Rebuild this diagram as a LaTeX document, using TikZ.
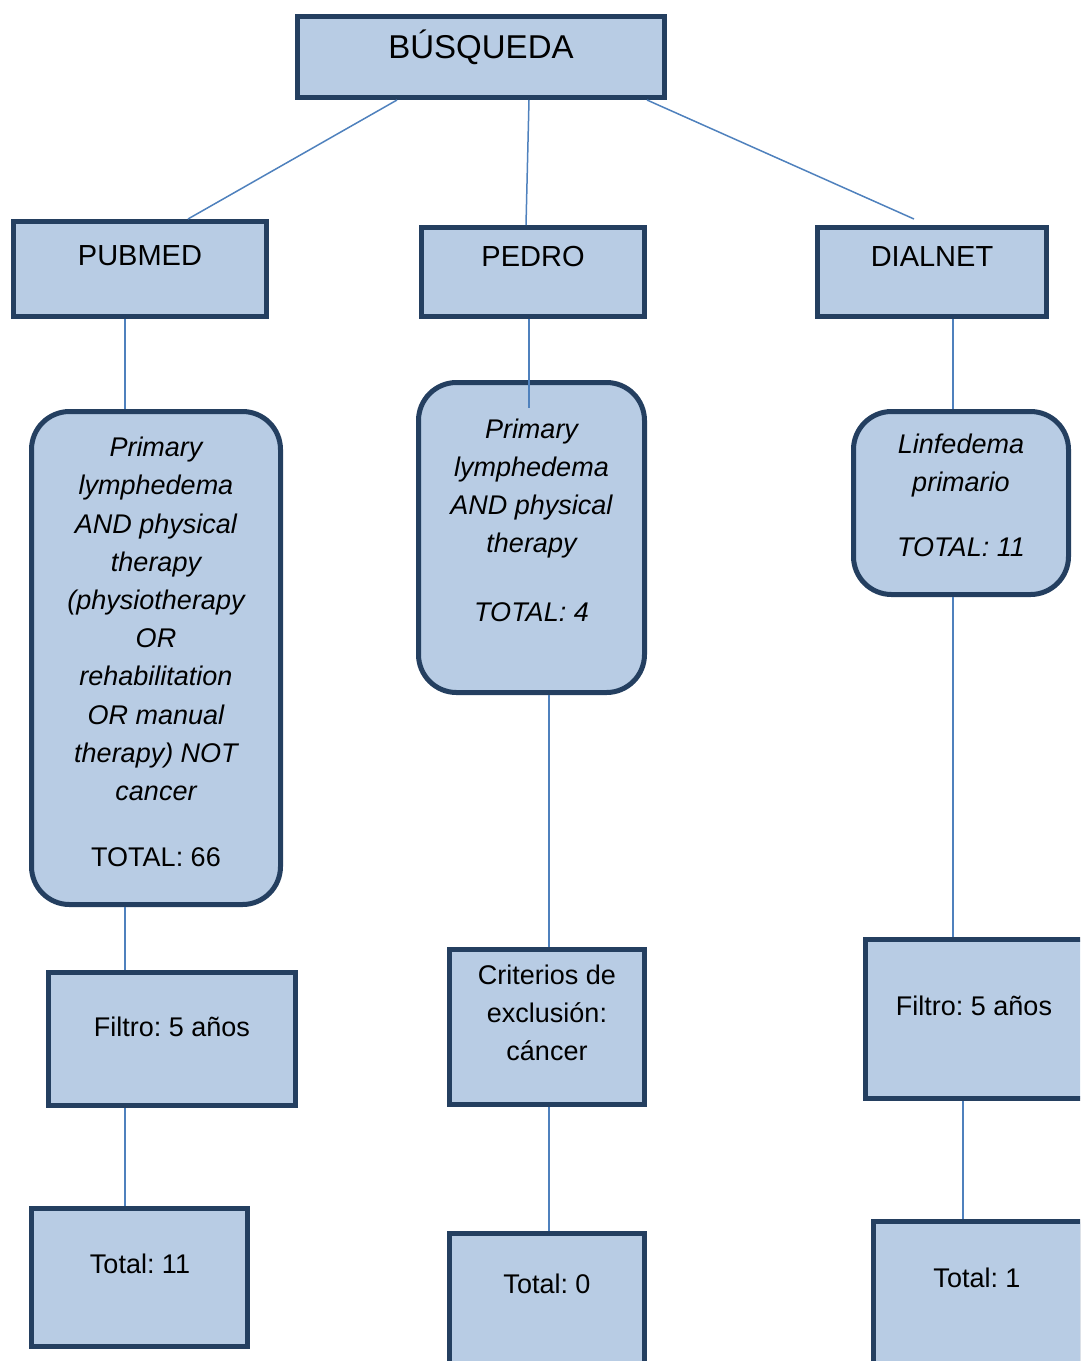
\documentclass[tikz,border=0pt]{standalone}
\usepackage{fontspec}
\setmainfont{Liberation Sans}
\usepackage{tikz}
\usepackage{xcolor}
\definecolor{cajafondo}{HTML}{B8CCE4}
\definecolor{cajaborde}{HTML}{243F60}
\definecolor{linea}{HTML}{4F81BD}
\frenchspacing

\begin{document}
\begin{tikzpicture}[x=1pt,y=-1pt,
  caja/.style={draw=cajaborde,fill=cajafondo,line width=5pt,inner sep=0pt},
  redonda/.style={caja,rounded corners=38pt},
  texto/.style={inner sep=0pt,align=center,font=\fontsize{27}{38.2}\selectfont},
  cursiva/.style={texto,font=\fontsize{27}{38.2}\selectfont\itshape},
  titulo/.style={inner sep=0pt,anchor=base,font=\fontsize{29}{34}\selectfont},
  union/.style={draw=linea,line width=1.5pt}]
\useasboundingbox (0,0) rectangle (1080,1361);
\clip (0,0) rectangle (1080,1361);

% cajas
\node[caja,minimum width=367pt,minimum height=81pt] (busq) at (481,57) {};
\node[caja,minimum width=253pt,minimum height=95pt] (pub) at (140,269) {};
\node[caja,minimum width=223pt,minimum height=89pt] (ped) at (533,272) {};
\node[caja,minimum width=229pt,minimum height=89pt] (dial) at (932,272) {};
\node[redonda,minimum width=249pt,minimum height=493pt] (pubq) at (156,658) {};
\node[redonda,minimum width=226pt,minimum height=310pt] (pedq) at (531.5,537.5) {};
\node[redonda,minimum width=215pt,minimum height=183pt] (dialq) at (961,503) {};
\node[caja,minimum width=247pt,minimum height=133pt] (pubf) at (172,1039) {};
\node[caja,minimum width=195pt,minimum height=155pt] (pedc) at (547,1027) {};
\node[caja,minimum width=220pt,minimum height=159pt] (dialf) at (975.5,1019) {};
\node[caja,minimum width=216pt,minimum height=138pt] (pubt) at (139.5,1277.5) {};
\node[caja,minimum width=195pt,minimum height=140pt] (pedt) at (547,1303) {};
\node[caja,minimum width=209pt,minimum height=151pt] (dialt) at (978,1297) {};

% uniones
\draw[union] ([xshift=-84pt]busq.south) -- ([xshift=48pt]pub.north);
\draw[union] ([xshift=48pt]busq.south) -- ([xshift=-7pt]ped.north);
\draw[union] ([xshift=166pt]busq.south) -- ([xshift=-18pt,yshift=6pt]dial.north);
\draw[union] ([xshift=-15pt]pub.south) -- ([xshift=-31pt]pubq.north);
\draw[union] ([xshift=-4pt]ped.south) -- ([xshift=-2.5pt,yshift=-28pt]pedq.north);
\draw[union] ([xshift=21pt]dial.south) -- ([xshift=-8pt]dialq.north);
\draw[union] ([xshift=-31pt]pubq.south) -- ([xshift=-47pt]pubf.north);
\draw[union] ([xshift=17.5pt]pedq.south) -- ([xshift=2pt]pedc.north);
\draw[union] ([xshift=-8pt]dialq.south) -- ([xshift=-22.5pt]dialf.north);
\draw[union] ([xshift=-47pt]pubf.south) -- ([xshift=-14.5pt]pubt.north);
\draw[union] ([xshift=2pt]pedc.south) -- ([xshift=2pt]pedt.north);
\draw[union] ([xshift=-12.5pt]dialf.south) -- ([xshift=-15pt]dialt.north);

% textos
\node[titulo,font=\fontsize{33}{38}\selectfont] (tbusq) at (481,58) {BÚSQUEDA};
\node[titulo] (tpub) at (140,265) {PUBMED};
\node[titulo] (tped) at (533,266) {PEDRO};
\node[titulo] (tdial) at (932,266) {DIALNET};
\node[cursiva,anchor=north] (tpubq) at (156,437) {Primary\\ lymphedema\\ AND physical\\ therapy\\ (physiotherapy\\ OR\\ rehabilitation\\ OR manual\\ therapy) NOT\\ cancer\\[27.5pt] \textup{TOTAL: 66}};
\node[cursiva,anchor=north] (tpedq) at (531.5,418.6) {Primary\\ lymphedema\\ AND physical\\ therapy\\[30.7pt] TOTAL: 4};
\node[cursiva,anchor=north] (tdialq) at (961,433.6) {Linfedema\\ primario\\[26.8pt] TOTAL: 11};
\node[texto,anchor=north] (tpedc) at (547,964.6) {Criterios de\\ exclusión:\\ cáncer};
\node[texto,anchor=base] (tpubf) at (172,1036.7) {Filtro: 5 años};
\node[texto,anchor=base] (tdialf) at (974,1015) {Filtro: 5 años};
\node[texto,anchor=base] (tpubt) at (140,1273) {Total: 11};
\node[texto,anchor=base] (tpedt) at (547,1293) {Total: 0};
\node[texto,anchor=base] (tdialt) at (977,1287) {Total: 1};
\end{tikzpicture}
\end{document}
